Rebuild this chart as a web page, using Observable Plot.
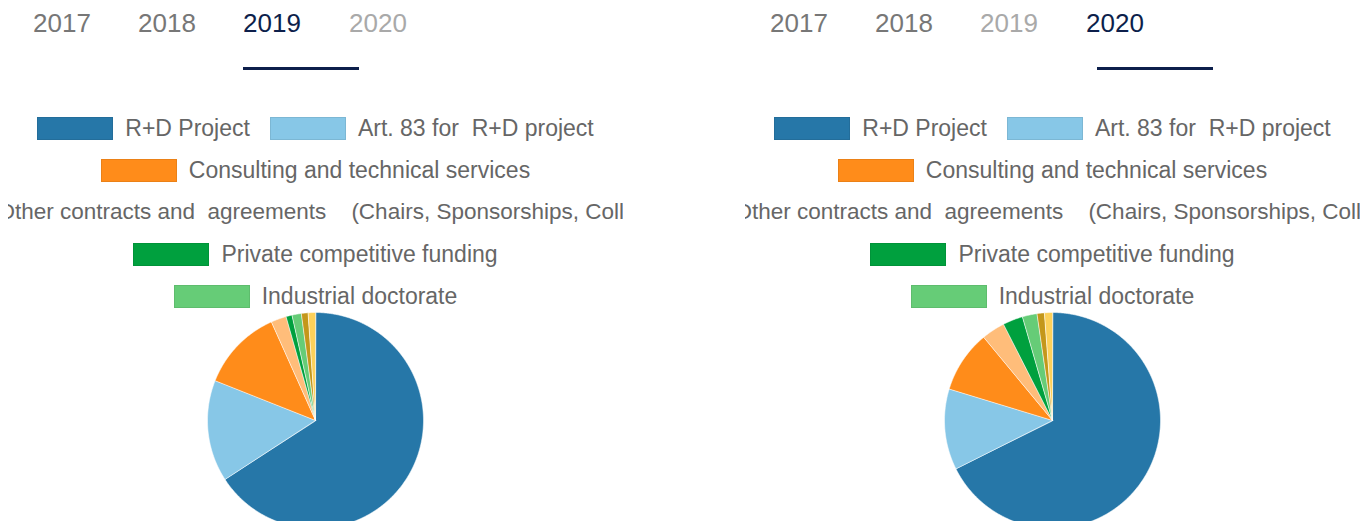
<!DOCTYPE html>
<html>
<head>
<meta charset="utf-8">
<script src="https://cdn.jsdelivr.net/npm/d3@7"></script>
<script src="https://cdn.jsdelivr.net/npm/@observablehq/plot@0.6"></script>
<style>
  html, body { margin: 0; padding: 0; background: #fff; overflow: hidden; }
  body { width: 1360px; height: 521px; position: relative; font-family: "Liberation Sans", Arial, sans-serif; }
  .panel { position: absolute; top: 0; width: 630px; height: 521px; }
  .tab { position: absolute; top: 6px; font-size: 26px; line-height: 34px; white-space: pre; }
  .underline { position: absolute; top: 67px; height: 3px; background: #0d1f4b; }
  .legend { position: absolute; left: 8px; top: 107px; width: 615px; overflow: hidden;
            display: flex; flex-wrap: wrap; justify-content: center; column-gap: 20px; }
  .item { display: flex; align-items: center; height: 42px; flex: none; position: relative; }
  .item.wide { left: 7.5px; }
  .item.wide .lab { font-size: 22.5px; }
  .sw { width: 76px; height: 23px; margin-right: 12px; box-sizing: border-box; border: 1px solid rgba(0,0,0,0.08); }
  .lab { font-size: 23px; color: #666; white-space: pre; }
  .pie { position: absolute; }
</style>
</head>
<body>
<script>
// ---- data ----
const years = ["2017", "2018", "2019", "2020"];
const categories = [
  "R+D Project",
  "Art. 83 for  R+D project",
  "Consulting and technical services",
  "Other contracts and  agreements    (Chairs, Sponsorships, Collaborations)",
  "Private competitive funding",
  "Industrial doctorate",
  "Other public funding",
  "Other income"
];
const colors = ["#2677a8", "#87c7e7", "#ff8c1a", "#ffbd7a", "#00a03e", "#66cc77", "#c4971a", "#fdd15a"];
const legendCount = 6; // legend page shows first six entries
const values2019 = [65.8, 15.2, 12.3, 2.3, 0.9, 1.4, 1.0, 1.1];
const values2020 = [67.6, 12.1, 9.3, 3.5, 3.0, 2.2, 1.1, 1.2];

const panels = [
  {left: 0, selected: "2019", dim: "2020", values: values2019, ulLeft: 243, ulWidth: 116},
  {left: 737, selected: "2020", dim: "2019", values: values2020, ulLeft: 360, ulWidth: 116}
];
const tabX = [33, 138, 243, 349];

function slicePolygons(values) {
  const arcs = d3.pie().sort(null).value(d => d)(values);
  const rows = [];
  arcs.forEach((a, i) => {
    const key = categories[i];
    rows.push({key, x: 0, y: 0});
    const n = Math.max(2, Math.ceil((a.endAngle - a.startAngle) / (Math.PI / 360)));
    for (let k = 0; k <= n; k++) {
      const t = a.startAngle + (a.endAngle - a.startAngle) * k / n;
      rows.push({key, x: Math.sin(t), y: Math.cos(t)});
    }
  });
  return rows;
}

panels.forEach(p => {
  const div = document.createElement("div");
  div.className = "panel";
  div.style.left = p.left + "px";
  document.body.appendChild(div);

  years.forEach((y, i) => {
    const s = document.createElement("span");
    s.className = "tab";
    s.textContent = y;
    s.style.left = tabX[i] + "px";
    s.style.color = y === p.selected ? "#0d1f4b" : (y === p.dim ? "#a9a9a9" : "#777777");
    div.appendChild(s);
  });
  const ul = document.createElement("div");
  ul.className = "underline";
  ul.style.left = p.ulLeft + "px";
  ul.style.width = p.ulWidth + "px";
  div.appendChild(ul);

  const leg = document.createElement("div");
  leg.className = "legend";
  categories.slice(0, legendCount).forEach((c, i) => {
    const it = document.createElement("div");
    it.className = "item" + (i === 3 ? " wide" : "");
    const sw = document.createElement("div");
    sw.className = "sw";
    sw.style.background = colors[i];
    const lab = document.createElement("span");
    lab.className = "lab";
    lab.textContent = c;
    it.appendChild(sw);
    it.appendChild(lab);
    leg.appendChild(it);
  });
  div.appendChild(leg);

  const chart = Plot.plot({
    width: 240,
    height: 240,
    margin: 12,
    x: {domain: [-1, 1], axis: null},
    y: {domain: [-1, 1], axis: null},
    color: {domain: categories, range: colors},
    marks: [
      Plot.line(slicePolygons(p.values), {
        x: "x", y: "y", z: "key", fill: "key",
        curve: "linear-closed",
        stroke: "#ffffff", strokeWidth: 0.7, strokeOpacity: 0.8
      })
    ]
  });
  chart.classList.add("pie");
  chart.style.left = "195px";
  chart.style.top = "300px";
  div.appendChild(chart);
});
</script>
</body>
</html>
